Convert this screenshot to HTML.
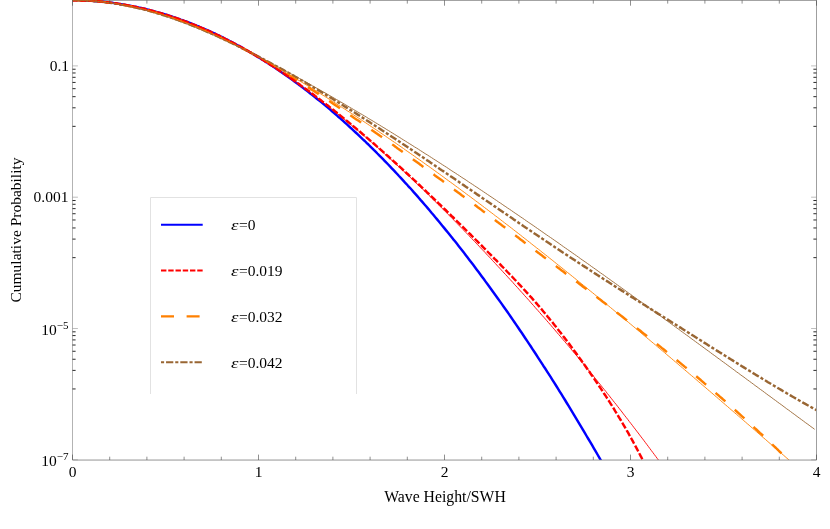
<!DOCTYPE html>
<html><head><meta charset="utf-8"><title>Cumulative Probability</title>
<style>
html,body{margin:0;padding:0;background:#fff;}
body{width:830px;height:529px;overflow:hidden;}
svg{display:block;will-change:transform;}
text{font-family:"Liberation Serif",serif;font-size:15.5px;fill:#000;}
.it{font-style:italic;}
.sup{font-size:11px;}
</style></head><body>
<svg width="830" height="529" viewBox="0 0 830 529">
<rect x="0" y="0" width="830" height="529" fill="#fff"/>
<defs><clipPath id="cp"><rect x="72.5" y="-2" width="744" height="462"/></clipPath></defs>

<path d="M72.5,0.3 H816.5" stroke="#7f7f7f" stroke-width="0.9" fill="none"/>
<g clip-path="url(#cp)" fill="none" stroke-linejoin="round">
<path d="M72.5,0.2 L74.3,0.3 L76.1,0.3 L77.9,0.3 L79.7,0.3 L81.5,0.4 L83.3,0.4 L85.1,0.5 L86.9,0.6 L88.7,0.7 L90.5,0.8 L92.3,0.9 L94.1,1.0 L96.0,1.2 L97.8,1.3 L99.6,1.5 L101.4,1.6 L103.2,1.8 L105.0,2.0 L106.8,2.2 L108.6,2.4 L110.4,2.6 L112.2,2.8 L114.0,3.1 L115.8,3.3 L117.6,3.6 L119.4,3.9 L121.2,4.2 L123.0,4.5 L124.8,4.8 L126.6,5.1 L128.4,5.4 L130.2,5.7 L132.0,6.1 L133.8,6.5 L135.6,6.8 L137.4,7.2 L139.2,7.6 L141.1,8.0 L142.9,8.4 L144.7,8.8 L146.5,9.3 L148.3,9.7 L150.1,10.2 L151.9,10.6 L153.7,11.1 L155.5,11.6 L157.3,12.1 L159.1,12.6 L160.9,13.1 L162.7,13.7 L164.5,14.2 L166.3,14.8 L168.1,15.3 L169.9,15.9 L171.7,16.5 L173.5,17.1 L175.3,17.7 L177.1,18.3 L178.9,18.9 L180.7,19.6 L182.5,20.2 L184.3,20.9 L186.2,21.5 L188.0,22.2 L189.8,22.9 L191.6,23.6 L193.4,24.3 L195.2,25.1 L197.0,25.8 L198.8,26.5 L200.6,27.3 L202.4,28.1 L204.2,28.8 L206.0,29.6 L207.8,30.4 L209.6,31.2 L211.4,32.1 L213.2,32.9 L215.0,33.7 L216.8,34.6 L218.6,35.4 L220.4,36.3 L222.2,37.2 L224.0,38.1 L225.8,39.0 L227.6,39.9 L229.4,40.9 L231.3,41.8 L233.1,42.7 L234.9,43.7 L236.7,44.7 L238.5,45.7 L240.3,46.6 L242.1,47.6 L243.9,48.7 L245.7,49.7 L247.5,50.7 L249.3,51.8 L251.1,52.8 L252.9,53.9 L254.7,55.0 L256.5,56.1 L258.3,57.2 L260.1,58.3 L261.9,59.4 L263.7,60.5 L265.5,61.7 L267.3,62.8 L269.1,64.0 L270.9,65.2 L272.7,66.3 L274.5,67.5 L276.4,68.7 L278.2,70.0 L280.0,71.2 L281.8,72.4 L283.6,73.7 L285.4,74.9 L287.2,76.2 L289.0,77.5 L290.8,78.8 L292.6,80.1 L294.4,81.4 L296.2,82.7 L298.0,84.1 L299.8,85.4 L301.6,86.8 L303.4,88.1 L305.2,89.5 L307.0,90.9 L308.8,92.3 L310.6,93.7 L312.4,95.1 L314.2,96.6 L316.0,98.0 L317.8,99.5 L319.6,100.9 L321.5,102.4 L323.3,103.9 L325.1,105.4 L326.9,106.9 L328.7,108.4 L330.5,109.9 L332.3,111.5 L334.1,113.0 L335.9,114.6 L337.7,116.2 L339.5,117.7 L341.3,119.3 L343.1,120.9 L344.9,122.6 L346.7,124.2 L348.5,125.8 L350.3,127.5 L352.1,129.1 L353.9,130.8 L355.7,132.5 L357.5,134.2 L359.3,135.9 L361.1,137.6 L362.9,139.3 L364.8,141.0 L366.6,142.8 L368.4,144.5 L370.2,146.3 L372.0,148.1 L373.8,149.9 L375.6,151.6 L377.4,153.5 L379.2,155.3 L381.0,157.1 L382.8,158.9 L384.6,160.8 L386.4,162.7 L388.2,164.5 L390.0,166.4 L391.8,168.3 L393.6,170.2 L395.4,172.1 L397.2,174.0 L399.0,176.0 L400.8,177.9 L402.6,179.9 L404.4,181.9 L406.2,183.8 L408.0,185.8 L409.9,187.8 L411.7,189.8 L413.5,191.9 L415.3,193.9 L417.1,195.9 L418.9,198.0 L420.7,200.1 L422.5,202.1 L424.3,204.2 L426.1,206.3 L427.9,208.4 L429.7,210.5 L431.5,212.7 L433.3,214.8 L435.1,217.0 L436.9,219.1 L438.7,221.3 L440.5,223.5 L442.3,225.7 L444.1,227.9 L445.9,230.1 L447.7,232.3 L449.5,234.6 L451.3,236.8 L453.1,239.1 L455.0,241.3 L456.8,243.6 L458.6,245.9 L460.4,248.2 L462.2,250.5 L464.0,252.8 L465.8,255.2 L467.6,257.5 L469.4,259.9 L471.2,262.2 L473.0,264.6 L474.8,267.0 L476.6,269.4 L478.4,271.8 L480.2,274.2 L482.0,276.7 L483.8,279.1 L485.6,281.6 L487.4,284.0 L489.2,286.5 L491.0,289.0 L492.8,291.5 L494.6,294.0 L496.4,296.5 L498.2,299.0 L500.1,301.6 L501.9,304.1 L503.7,306.7 L505.5,309.2 L507.3,311.8 L509.1,314.4 L510.9,317.0 L512.7,319.6 L514.5,322.2 L516.3,324.9 L518.1,327.5 L519.9,330.2 L521.7,332.8 L523.5,335.5 L525.3,338.2 L527.1,340.9 L528.9,343.6 L530.7,346.3 L532.5,349.1 L534.3,351.8 L536.1,354.5 L537.9,357.3 L539.7,360.1 L541.5,362.9 L543.3,365.7 L545.2,368.5 L547.0,371.3 L548.8,374.1 L550.6,376.9 L552.4,379.8 L554.2,382.7 L556.0,385.5 L557.8,388.4 L559.6,391.3 L561.4,394.2 L563.2,397.1 L565.0,400.0 L566.8,403.0 L568.6,405.9 L570.4,408.9 L572.2,411.8 L574.0,414.8 L575.8,417.8 L577.6,420.8 L579.4,423.8 L581.2,426.8 L583.0,429.9 L584.8,432.9 L586.6,436.0 L588.4,439.0 L590.3,442.1 L592.1,445.2 L593.9,448.3 L595.7,451.4 L597.5,454.5 L599.3,457.6 L601.1,460.8 L602.9,463.9 L604.7,467.1 L606.5,470.2 L608.3,473.4 L610.1,476.6 L611.9,479.8" stroke="#0000ff" stroke-width="2.45"/>
<path d="M72.5,0.2 L74.4,0.3 L76.2,0.3 L78.1,0.3 L80.0,0.4 L81.8,0.4 L83.7,0.5 L85.6,0.6 L87.4,0.7 L89.3,0.8 L91.1,0.9 L93.0,1.0 L94.9,1.2 L96.7,1.3 L98.6,1.5 L100.5,1.7 L102.3,1.9 L104.2,2.1 L106.1,2.3 L107.9,2.6 L109.8,2.8 L111.7,3.1 L113.5,3.3 L115.4,3.6 L117.3,3.9 L119.1,4.2 L121.0,4.6 L122.8,4.9 L124.7,5.2 L126.6,5.6 L128.4,6.0 L130.3,6.4 L132.2,6.8 L134.0,7.2 L135.9,7.6 L137.8,8.0 L139.6,8.5 L141.5,8.9 L143.4,9.4 L145.2,9.9 L147.1,10.3 L149.0,10.8 L150.8,11.4 L152.7,11.9 L154.5,12.4 L156.4,13.0 L158.3,13.5 L160.1,14.1 L162.0,14.7 L163.9,15.2 L165.7,15.8 L167.6,16.5 L169.5,17.1 L171.3,17.7 L173.2,18.3 L175.1,19.0 L176.9,19.7 L178.8,20.3 L180.7,21.0 L182.5,21.7 L184.4,22.4 L186.2,23.1 L188.1,23.8 L190.0,24.6 L191.8,25.3 L193.7,26.1 L195.6,26.8 L197.4,27.6 L199.3,28.3 L201.2,29.1 L203.0,29.9 L204.9,30.7 L206.8,31.5 L208.6,32.3 L210.5,33.2 L212.3,34.0 L214.2,34.8 L216.1,35.7 L217.9,36.5 L219.8,37.4 L221.7,38.3 L223.5,39.2 L225.4,40.0 L227.3,40.9 L229.1,41.8 L231.0,42.7 L232.9,43.6 L234.7,44.5 L236.6,45.5 L238.5,46.4 L240.3,47.3 L242.2,48.3 L244.0,49.2 L245.9,50.2 L247.8,51.1 L249.6,52.1 L251.5,53.0 L253.4,53.9 L255.2,54.9 L257.1,55.9 L259.0,56.8 L260.8,57.8 L262.7,58.8 L264.6,59.8 L266.4,60.8 L268.3,61.8 L270.2,62.8 L272.0,63.8 L273.9,64.8 L275.7,65.8 L277.6,66.8 L279.5,67.9 L281.3,68.9 L283.2,69.9 L285.1,71.0 L286.9,72.0 L288.8,73.1 L290.7,74.1 L292.5,75.2 L294.4,76.2 L296.3,77.3 L298.1,78.4 L300.0,79.5 L301.9,80.5 L303.7,81.6 L305.6,82.7 L307.4,83.8 L309.3,84.9 L311.2,86.0 L313.0,87.1 L314.9,88.2 L316.8,89.3 L318.6,90.4 L320.5,91.5 L322.4,92.7 L324.2,93.8 L326.1,94.9 L328.0,96.1 L329.8,97.2 L331.7,98.3 L333.6,99.5 L335.4,100.6 L337.3,101.8 L339.1,102.9 L341.0,104.1 L342.9,105.2 L344.7,106.4 L346.6,107.6 L348.5,108.7 L350.3,109.9 L352.2,111.1 L354.1,112.3 L355.9,113.4 L357.8,114.6 L359.7,115.8 L361.5,117.0 L363.4,118.2 L365.3,119.4 L367.1,120.6 L369.0,121.8 L370.8,123.0 L372.7,124.2 L374.6,125.4 L376.4,126.6 L378.3,127.8 L380.2,129.0 L382.0,130.3 L383.9,131.5 L385.8,132.7 L387.6,133.9 L389.5,135.2 L391.4,136.4 L393.2,137.6 L395.1,138.8 L397.0,140.1 L398.8,141.3 L400.7,142.6 L402.5,143.8 L404.4,145.0 L406.3,146.3 L408.1,147.5 L410.0,148.8 L411.9,150.0 L413.7,151.3 L415.6,152.5 L417.5,153.8 L419.3,155.0 L421.2,156.3 L423.1,157.5 L424.9,158.8 L426.8,160.1 L428.7,161.3 L430.5,162.6 L432.4,163.8 L434.2,165.1 L436.1,166.4 L438.0,167.6 L439.8,168.9 L441.7,170.2 L443.6,171.4 L445.4,172.7 L447.3,174.0 L449.2,175.2 L451.0,176.5 L452.9,177.8 L454.8,179.1 L456.6,180.3 L458.5,181.6 L460.3,182.9 L462.2,184.2 L464.1,185.4 L465.9,186.7 L467.8,188.0 L469.7,189.3 L471.5,190.5 L473.4,191.8 L475.3,193.1 L477.1,194.4 L479.0,195.6 L480.9,196.9 L482.7,198.2 L484.6,199.5 L486.5,200.8 L488.3,202.0 L490.2,203.3 L492.0,204.6 L493.9,205.9 L495.8,207.1 L497.6,208.4 L499.5,209.7 L501.4,211.0 L503.2,212.2 L505.1,213.5 L507.0,214.8 L508.8,216.1 L510.7,217.3 L512.6,218.6 L514.4,219.9 L516.3,221.1 L518.2,222.4 L520.0,223.7 L521.9,224.9 L523.7,226.2 L525.6,227.5 L527.5,228.7 L529.3,230.0 L531.2,231.2 L533.1,232.5 L534.9,233.8 L536.8,235.0 L538.7,236.3 L540.5,237.5 L542.4,238.8 L544.3,240.0 L546.1,241.3 L548.0,242.5 L549.9,243.8 L551.7,245.0 L553.6,246.3 L555.4,247.5 L557.3,248.7 L559.2,250.0 L561.0,251.2 L562.9,252.5 L564.8,253.7 L566.6,254.9 L568.5,256.1 L570.4,257.4 L572.2,258.6 L574.1,259.8 L576.0,261.0 L577.8,262.3 L579.7,263.5 L581.6,264.7 L583.4,265.9 L585.3,267.1 L587.1,268.3 L589.0,269.6 L590.9,270.8 L592.7,272.0 L594.6,273.2 L596.5,274.4 L598.3,275.6 L600.2,276.8 L602.1,278.0 L603.9,279.2 L605.8,280.4 L607.7,281.6 L609.5,282.8 L611.4,284.0 L613.3,285.2 L615.1,286.4 L617.0,287.6 L618.8,288.8 L620.7,289.9 L622.6,291.1 L624.4,292.3 L626.3,293.5 L628.2,294.7 L630.0,295.9 L631.9,297.1 L633.8,298.2 L635.6,299.4 L637.5,300.6 L639.4,301.8 L641.2,303.0 L643.1,304.2 L645.0,305.3 L646.8,306.5 L648.7,307.7 L650.5,308.9 L652.4,310.0 L654.3,311.2 L656.1,312.4 L658.0,313.6 L659.9,314.7 L661.7,315.9 L663.6,317.1 L665.5,318.3 L667.3,319.4 L669.2,320.6 L671.1,321.8 L672.9,323.0 L674.8,324.1 L676.7,325.3 L678.5,326.5 L680.4,327.6 L682.2,328.8 L684.1,330.0 L686.0,331.2 L687.8,332.3 L689.7,333.5 L691.6,334.7 L693.4,335.8 L695.3,337.0 L697.2,338.2 L699.0,339.4 L700.9,340.5 L702.8,341.7 L704.6,342.9 L706.5,344.0 L708.3,345.2 L710.2,346.4 L712.1,347.6 L713.9,348.7 L715.8,349.9 L717.7,351.1 L719.5,352.2 L721.4,353.4 L723.3,354.6 L725.1,355.7 L727.0,356.9 L728.9,358.1 L730.7,359.2 L732.6,360.4 L734.5,361.6 L736.3,362.7 L738.2,363.9 L740.0,365.0 L741.9,366.2 L743.8,367.4 L745.6,368.5 L747.5,369.7 L749.4,370.8 L751.2,371.9 L753.1,373.1 L755.0,374.2 L756.8,375.4 L758.7,376.5 L760.6,377.6 L762.4,378.8 L764.3,379.9 L766.2,381.0 L768.0,382.2 L769.9,383.3 L771.7,384.4 L773.6,385.5 L775.5,386.6 L777.3,387.7 L779.2,388.8 L781.1,389.9 L782.9,391.0 L784.8,392.1 L786.7,393.2 L788.5,394.3 L790.4,395.4 L792.3,396.5 L794.1,397.5 L796.0,398.6 L797.9,399.7 L799.7,400.7 L801.6,401.8 L803.4,402.9 L805.3,403.9 L807.2,405.0 L809.0,406.0 L810.9,407.0 L812.8,408.1 L814.6,409.1 L816.5,410.1" stroke="#996633" stroke-width="2.45" stroke-dasharray="3.1 2.045 7.25 2.045" stroke-dashoffset="1.54"/>
<path d="M72.5,0.2 L74.3,0.3 L76.1,0.3 L77.9,0.3 L79.6,0.3 L81.4,0.4 L83.2,0.5 L85.0,0.5 L86.8,0.6 L88.6,0.7 L90.4,0.8 L92.1,0.9 L93.9,1.1 L95.7,1.2 L97.5,1.3 L99.3,1.5 L101.1,1.7 L102.9,1.9 L104.6,2.1 L106.4,2.3 L108.2,2.5 L110.0,2.7 L111.8,3.0 L113.6,3.2 L115.3,3.5 L117.1,3.7 L118.9,4.0 L120.7,4.3 L122.5,4.6 L124.3,4.9 L126.1,5.3 L127.8,5.6 L129.6,6.0 L131.4,6.3 L133.2,6.7 L135.0,7.1 L136.8,7.5 L138.6,7.9 L140.3,8.3 L142.1,8.7 L143.9,9.1 L145.7,9.6 L147.5,10.0 L149.3,10.5 L151.1,11.0 L152.8,11.5 L154.6,12.0 L156.4,12.5 L158.2,13.0 L160.0,13.5 L161.8,14.1 L163.6,14.6 L165.3,15.2 L167.1,15.7 L168.9,16.3 L170.7,16.9 L172.5,17.5 L174.3,18.1 L176.1,18.7 L177.8,19.4 L179.6,20.0 L181.4,20.6 L183.2,21.3 L185.0,22.0 L186.8,22.6 L188.6,23.3 L190.3,24.0 L192.1,24.7 L193.9,25.4 L195.7,26.2 L197.5,26.9 L199.3,27.6 L201.0,28.4 L202.8,29.1 L204.6,29.9 L206.4,30.7 L208.2,31.5 L210.0,32.3 L211.8,33.1 L213.5,33.9 L215.3,34.7 L217.1,35.5 L218.9,36.4 L220.7,37.2 L222.5,38.1 L224.3,38.9 L226.0,39.8 L227.8,40.7 L229.6,41.6 L231.4,42.5 L233.2,43.4 L235.0,44.3 L236.8,45.2 L238.5,46.1 L240.3,47.0 L242.1,48.0 L243.9,48.9 L245.7,49.9 L247.5,50.8 L249.3,51.8 L251.0,52.8 L252.8,53.7 L254.6,54.7 L256.4,55.8 L258.2,56.8 L260.0,57.8 L261.8,58.9 L263.5,59.9 L265.3,61.0 L267.1,62.0 L268.9,63.1 L270.7,64.2 L272.5,65.2 L274.3,66.3 L276.0,67.4 L277.8,68.5 L279.6,69.6 L281.4,70.6 L283.2,71.7 L285.0,72.8 L286.7,73.9 L288.5,75.0 L290.3,76.1 L292.1,77.2 L293.9,78.4 L295.7,79.5 L297.5,80.6 L299.2,81.7 L301.0,82.8 L302.8,84.0 L304.6,85.1 L306.4,86.2 L308.2,87.4 L310.0,88.5 L311.7,89.7 L313.5,90.8 L315.3,92.0 L317.1,93.1 L318.9,94.3 L320.7,95.5 L322.5,96.6 L324.2,97.8 L326.0,99.0 L327.8,100.2 L329.6,101.3 L331.4,102.5 L333.2,103.7 L335.0,104.9 L336.7,106.1 L338.5,107.3 L340.3,108.5 L342.1,109.7 L343.9,110.9 L345.7,112.1 L347.5,113.3 L349.2,114.5 L351.0,115.7 L352.8,116.9 L354.6,118.2 L356.4,119.4 L358.2,120.6 L360.0,121.8 L361.7,123.1 L363.5,124.3 L365.3,125.5 L367.1,126.8 L368.9,128.0 L370.7,129.2 L372.4,130.5 L374.2,131.7 L376.0,133.0 L377.8,134.2 L379.6,135.5 L381.4,136.7 L383.2,138.0 L384.9,139.3 L386.7,140.5 L388.5,141.8 L390.3,143.1 L392.1,144.3 L393.9,145.6 L395.7,146.9 L397.4,148.2 L399.2,149.4 L401.0,150.7 L402.8,152.0 L404.6,153.3 L406.4,154.6 L408.2,155.8 L409.9,157.1 L411.7,158.4 L413.5,159.7 L415.3,161.0 L417.1,162.3 L418.9,163.6 L420.7,164.9 L422.4,166.2 L424.2,167.5 L426.0,168.8 L427.8,170.1 L429.6,171.4 L431.4,172.7 L433.2,174.0 L434.9,175.4 L436.7,176.7 L438.5,178.0 L440.3,179.3 L442.1,180.6 L443.9,181.9 L445.7,183.2 L447.4,184.6 L449.2,185.9 L451.0,187.2 L452.8,188.5 L454.6,189.9 L456.4,191.2 L458.1,192.5 L459.9,193.8 L461.7,195.2 L463.5,196.5 L465.3,197.8 L467.1,199.2 L468.9,200.5 L470.6,201.8 L472.4,203.2 L474.2,204.5 L476.0,205.8 L477.8,207.2 L479.6,208.5 L481.4,209.9 L483.1,211.2 L484.9,212.5 L486.7,213.9 L488.5,215.2 L490.3,216.6 L492.1,217.9 L493.9,219.3 L495.6,220.6 L497.4,221.9 L499.2,223.3 L501.0,224.6 L502.8,226.0 L504.6,227.3 L506.4,228.7 L508.1,230.0 L509.9,231.4 L511.7,232.7 L513.5,234.1 L515.3,235.4 L517.1,236.8 L518.9,238.1 L520.6,239.5 L522.4,240.8 L524.2,242.2 L526.0,243.5 L527.8,244.9 L529.6,246.2 L531.4,247.5 L533.1,248.9 L534.9,250.2 L536.7,251.6 L538.5,252.9 L540.3,254.3 L542.1,255.6 L543.8,257.0 L545.6,258.3 L547.4,259.7 L549.2,261.0 L551.0,262.4 L552.8,263.7 L554.6,265.1 L556.3,266.4 L558.1,267.8 L559.9,269.1 L561.7,270.5 L563.5,271.8 L565.3,273.2 L567.1,274.5 L568.8,275.9 L570.6,277.2 L572.4,278.6 L574.2,279.9 L576.0,281.3 L577.8,282.6 L579.6,284.0 L581.3,285.3 L583.1,286.7 L584.9,288.0 L586.7,289.4 L588.5,290.8 L590.3,292.1 L592.1,293.5 L593.8,294.8 L595.6,296.2 L597.4,297.6 L599.2,298.9 L601.0,300.3 L602.8,301.7 L604.6,303.0 L606.3,304.4 L608.1,305.8 L609.9,307.2 L611.7,308.5 L613.5,309.9 L615.3,311.3 L617.1,312.7 L618.8,314.0 L620.6,315.4 L622.4,316.8 L624.2,318.2 L626.0,319.6 L627.8,321.0 L629.5,322.4 L631.3,323.8 L633.1,325.2 L634.9,326.6 L636.7,328.0 L638.5,329.4 L640.3,330.8 L642.0,332.2 L643.8,333.6 L645.6,335.0 L647.4,336.4 L649.2,337.9 L651.0,339.3 L652.8,340.7 L654.5,342.1 L656.3,343.6 L658.1,345.0 L659.9,346.4 L661.7,347.9 L663.5,349.3 L665.3,350.8 L667.0,352.2 L668.8,353.7 L670.6,355.1 L672.4,356.6 L674.2,358.0 L676.0,359.5 L677.8,361.0 L679.5,362.4 L681.3,363.9 L683.1,365.4 L684.9,366.9 L686.7,368.3 L688.5,369.8 L690.3,371.3 L692.0,372.8 L693.8,374.3 L695.6,375.8 L697.4,377.3 L699.2,378.8 L701.0,380.3 L702.8,381.9 L704.5,383.4 L706.3,384.9 L708.1,386.4 L709.9,388.0 L711.7,389.5 L713.5,391.0 L715.2,392.6 L717.0,394.1 L718.8,395.7 L720.6,397.3 L722.4,398.8 L724.2,400.4 L726.0,402.0 L727.7,403.5 L729.5,405.1 L731.3,406.7 L733.1,408.3 L734.9,409.9 L736.7,411.5 L738.5,413.1 L740.2,414.7 L742.0,416.3 L743.8,417.9 L745.6,419.6 L747.4,421.2 L749.2,422.8 L751.0,424.5 L752.7,426.1 L754.5,427.8 L756.3,429.4 L758.1,431.1 L759.9,432.8 L761.7,434.4 L763.5,436.1 L765.2,437.8 L767.0,439.5 L768.8,441.2 L770.6,442.9 L772.4,444.6 L774.2,446.3 L776.0,448.0 L777.7,449.7 L779.5,451.5 L781.3,453.2 L783.1,454.9 L784.9,456.7" stroke="#ff8000" stroke-width="2.45" stroke-dasharray="13 12.50" stroke-dashoffset="0.42"/>
<path d="M72.5,0.2 L73.9,0.3 L75.4,0.3 L76.8,0.3 L78.2,0.3 L79.7,0.3 L81.1,0.4 L82.6,0.4 L84.0,0.5 L85.4,0.5 L86.9,0.6 L88.3,0.7 L89.7,0.7 L91.2,0.8 L92.6,0.9 L94.0,1.0 L95.5,1.1 L96.9,1.2 L98.3,1.4 L99.8,1.5 L101.2,1.6 L102.7,1.8 L104.1,1.9 L105.5,2.1 L107.0,2.2 L108.4,2.4 L109.8,2.6 L111.3,2.8 L112.7,2.9 L114.1,3.1 L115.6,3.3 L117.0,3.5 L118.4,3.8 L119.9,4.0 L121.3,4.2 L122.8,4.5 L124.2,4.7 L125.6,4.9 L127.1,5.2 L128.5,5.5 L129.9,5.7 L131.4,6.0 L132.8,6.3 L134.2,6.6 L135.7,6.9 L137.1,7.2 L138.5,7.5 L140.0,7.8 L141.4,8.2 L142.9,8.5 L144.3,8.8 L145.7,9.2 L147.2,9.5 L148.6,9.9 L150.0,10.2 L151.5,10.6 L152.9,11.0 L154.3,11.4 L155.8,11.8 L157.2,12.2 L158.6,12.6 L160.1,13.0 L161.5,13.4 L163.0,13.8 L164.4,14.3 L165.8,14.7 L167.3,15.2 L168.7,15.6 L170.1,16.1 L171.6,16.6 L173.0,17.0 L174.4,17.5 L175.9,18.0 L177.3,18.5 L178.7,19.0 L180.2,19.5 L181.6,20.0 L183.1,20.5 L184.5,21.1 L185.9,21.6 L187.4,22.1 L188.8,22.7 L190.2,23.2 L191.7,23.8 L193.1,24.4 L194.5,24.9 L196.0,25.5 L197.4,26.1 L198.8,26.7 L200.3,27.3 L201.7,27.9 L203.2,28.5 L204.6,29.2 L206.0,29.8 L207.5,30.4 L208.9,31.1 L210.3,31.7 L211.8,32.4 L213.2,33.0 L214.6,33.7 L216.1,34.4 L217.5,35.1 L219.0,35.7 L220.4,36.4 L221.8,37.1 L223.3,37.8 L224.7,38.6 L226.1,39.3 L227.6,40.0 L229.0,40.7 L230.4,41.5 L231.9,42.2 L233.3,43.0 L234.7,43.7 L236.2,44.5 L237.6,45.3 L239.1,46.1 L240.5,46.8 L241.9,47.6 L243.4,48.4 L244.8,49.2 L246.2,50.0 L247.7,50.9 L249.1,51.7 L250.5,52.5 L252.0,53.4 L253.4,54.2 L254.8,55.0 L256.3,55.9 L257.7,56.8 L259.2,57.6 L260.6,58.5 L262.0,59.4 L263.5,60.3 L264.9,61.2 L266.3,62.1 L267.8,63.0 L269.2,63.9 L270.6,64.8 L272.1,65.8 L273.5,66.7 L274.9,67.6 L276.4,68.6 L277.8,69.5 L279.3,70.5 L280.7,71.4 L282.1,72.4 L283.6,73.3 L285.0,74.3 L286.4,75.3 L287.9,76.3 L289.3,77.3 L290.7,78.3 L292.2,79.3 L293.6,80.3 L295.0,81.3 L296.5,82.3 L297.9,83.3 L299.4,84.3 L300.8,85.4 L302.2,86.4 L303.7,87.4 L305.1,88.5 L306.5,89.5 L308.0,90.6 L309.4,91.6 L310.8,92.7 L312.3,93.8 L313.7,94.8 L315.1,95.9 L316.6,97.0 L318.0,98.1 L319.5,99.2 L320.9,100.3 L322.3,101.4 L323.8,102.5 L325.2,103.6 L326.6,104.7 L328.1,105.8 L329.5,106.9 L330.9,108.1 L332.4,109.2 L333.8,110.3 L335.2,111.5 L336.7,112.6 L338.1,113.8 L339.6,114.9 L341.0,116.1 L342.4,117.3 L343.9,118.4 L345.3,119.6 L346.7,120.8 L348.2,122.0 L349.6,123.1 L351.0,124.3 L352.5,125.5 L353.9,126.7 L355.4,127.9 L356.8,129.1 L358.2,130.3 L359.7,131.5 L361.1,132.7 L362.5,134.0 L364.0,135.2 L365.4,136.4 L366.8,137.6 L368.3,138.9 L369.7,140.1 L371.1,141.4 L372.6,142.6 L374.0,143.8 L375.5,145.1 L376.9,146.4 L378.3,147.6 L379.8,148.9 L381.2,150.1 L382.6,151.4 L384.1,152.7 L385.5,154.0 L386.9,155.2 L388.4,156.5 L389.8,157.8 L391.2,159.1 L392.7,160.4 L394.1,161.7 L395.6,163.0 L397.0,164.3 L398.4,165.6 L399.9,166.9 L401.3,168.2 L402.7,169.5 L404.2,170.8 L405.6,172.2 L407.0,173.5 L408.5,174.8 L409.9,176.1 L411.3,177.5 L412.8,178.8 L414.2,180.1 L415.7,181.5 L417.1,182.8 L418.5,184.2 L420.0,185.5 L421.4,186.9 L422.8,188.2 L424.3,189.6 L425.7,190.9 L427.1,192.3 L428.6,193.7 L430.0,195.0 L431.4,196.4 L432.9,197.8 L434.3,199.2 L435.8,200.5 L437.2,201.9 L438.6,203.3 L440.1,204.7 L441.5,206.1 L442.9,207.5 L444.4,208.9 L445.8,210.2 L447.2,211.6 L448.7,213.0 L450.1,214.4 L451.5,215.8 L453.0,217.2 L454.4,218.7 L455.9,220.1 L457.3,221.5 L458.7,222.9 L460.2,224.3 L461.6,225.7 L463.0,227.1 L464.5,228.6 L465.9,230.0 L467.3,231.4 L468.8,232.8 L470.2,234.2 L471.6,235.7 L473.1,237.1 L474.5,238.5 L476.0,240.0 L477.4,241.4 L478.8,242.8 L480.3,244.3 L481.7,245.7 L483.1,247.2 L484.6,248.6 L486.0,250.1 L487.4,251.5 L488.9,253.0 L490.3,254.4 L491.8,255.9 L493.2,257.3 L494.6,258.8 L496.1,260.2 L497.5,261.7 L498.9,263.1 L500.4,264.6 L501.8,266.1 L503.2,267.5 L504.7,269.0 L506.1,270.5 L507.5,272.0 L509.0,273.5 L510.4,275.0 L511.9,276.5 L513.3,278.0 L514.7,279.5 L516.2,281.0 L517.6,282.5 L519.0,284.1 L520.5,285.6 L521.9,287.2 L523.3,288.7 L524.8,290.3 L526.2,291.9 L527.6,293.4 L529.1,295.0 L530.5,296.6 L532.0,298.2 L533.4,299.9 L534.8,301.5 L536.3,303.1 L537.7,304.8 L539.1,306.4 L540.6,308.1 L542.0,309.8 L543.4,311.5 L544.9,313.2 L546.3,314.9 L547.7,316.7 L549.2,318.4 L550.6,320.2 L552.1,321.9 L553.5,323.7 L554.9,325.5 L556.4,327.3 L557.8,329.2 L559.2,331.0 L560.7,332.8 L562.1,334.7 L563.5,336.6 L565.0,338.4 L566.4,340.3 L567.8,342.2 L569.3,344.1 L570.7,346.0 L572.2,348.0 L573.6,349.9 L575.0,351.8 L576.5,353.8 L577.9,355.8 L579.3,357.7 L580.8,359.7 L582.2,361.7 L583.6,363.7 L585.1,365.7 L586.5,367.7 L587.9,369.8 L589.4,371.8 L590.8,373.9 L592.3,375.9 L593.7,378.0 L595.1,380.1 L596.6,382.2 L598.0,384.3 L599.4,386.5 L600.9,388.6 L602.3,390.8 L603.7,393.0 L605.2,395.2 L606.6,397.4 L608.0,399.6 L609.5,401.9 L610.9,404.1 L612.4,406.4 L613.8,408.7 L615.2,411.1 L616.7,413.4 L618.1,415.8 L619.5,418.1 L621.0,420.5 L622.4,423.0 L623.8,425.4 L625.3,427.9 L626.7,430.4 L628.2,432.9 L629.6,435.5 L631.0,438.0 L632.5,440.6 L633.9,443.3 L635.3,445.9 L636.8,448.6 L638.2,451.3 L639.6,454.0 L641.1,456.8 L642.5,459.6 L643.9,462.4 L645.4,465.3" stroke="#ff0000" stroke-width="2.45" stroke-dasharray="6.66 2.1" stroke-dashoffset="1.66"/>
<path d="M72.5,0.2 L74.0,0.3 L75.4,0.3 L76.9,0.3 L78.4,0.3 L79.9,0.3 L81.3,0.4 L82.8,0.4 L84.3,0.5 L85.8,0.5 L87.2,0.6 L88.7,0.7 L90.2,0.8 L91.7,0.9 L93.1,1.0 L94.6,1.1 L96.1,1.2 L97.5,1.3 L99.0,1.4 L100.5,1.6 L102.0,1.7 L103.4,1.9 L104.9,2.0 L106.4,2.2 L107.9,2.4 L109.3,2.5 L110.8,2.7 L112.3,2.9 L113.7,3.1 L115.2,3.3 L116.7,3.5 L118.2,3.8 L119.6,4.0 L121.1,4.2 L122.6,4.5 L124.1,4.7 L125.5,5.0 L127.0,5.2 L128.5,5.5 L130.0,5.8 L131.4,6.1 L132.9,6.4 L134.4,6.7 L135.8,7.0 L137.3,7.3 L138.8,7.6 L140.3,8.0 L141.7,8.3 L143.2,8.6 L144.7,9.0 L146.2,9.4 L147.6,9.7 L149.1,10.1 L150.6,10.5 L152.0,10.9 L153.5,11.3 L155.0,11.7 L156.5,12.1 L157.9,12.5 L159.4,12.9 L160.9,13.3 L162.4,13.8 L163.8,14.2 L165.3,14.7 L166.8,15.1 L168.3,15.6 L169.7,16.1 L171.2,16.6 L172.7,17.0 L174.1,17.5 L175.6,18.0 L177.1,18.5 L178.6,19.1 L180.0,19.6 L181.5,20.1 L183.0,20.6 L184.5,21.2 L185.9,21.7 L187.4,22.3 L188.9,22.9 L190.3,23.4 L191.8,24.0 L193.3,24.6 L194.8,25.2 L196.2,25.8 L197.7,26.4 L199.2,27.0 L200.7,27.6 L202.1,28.2 L203.6,28.9 L205.1,29.5 L206.6,30.2 L208.0,30.8 L209.5,31.5 L211.0,32.1 L212.4,32.8 L213.9,33.5 L215.4,34.2 L216.9,34.9 L218.3,35.6 L219.8,36.3 L221.3,37.0 L222.8,37.7 L224.2,38.5 L225.7,39.2 L227.2,39.9 L228.6,40.7 L230.1,41.4 L231.6,42.2 L233.1,43.0 L234.5,43.7 L236.0,44.5 L237.5,45.3 L239.0,46.1 L240.4,46.9 L241.9,47.7 L243.4,48.5 L244.9,49.3 L246.3,50.2 L247.8,51.0 L249.3,51.8 L250.7,52.7 L252.2,53.5 L253.7,54.4 L255.2,55.2 L256.6,56.1 L258.1,57.0 L259.6,57.9 L261.1,58.9 L262.5,59.8 L264.0,60.7 L265.5,61.7 L266.9,62.6 L268.4,63.5 L269.9,64.5 L271.4,65.5 L272.8,66.4 L274.3,67.4 L275.8,68.4 L277.3,69.3 L278.7,70.3 L280.2,71.3 L281.7,72.3 L283.2,73.3 L284.6,74.3 L286.1,75.3 L287.6,76.3 L289.0,77.4 L290.5,78.4 L292.0,79.4 L293.5,80.5 L294.9,81.5 L296.4,82.5 L297.9,83.6 L299.4,84.7 L300.8,85.7 L302.3,86.8 L303.8,87.9 L305.2,88.9 L306.7,90.0 L308.2,91.1 L309.7,92.2 L311.1,93.3 L312.6,94.4 L314.1,95.5 L315.6,96.6 L317.0,97.7 L318.5,98.8 L320.0,100.0 L321.5,101.1 L322.9,102.2 L324.4,103.4 L325.9,104.5 L327.3,105.7 L328.8,106.8 L330.3,108.0 L331.8,109.1 L333.2,110.3 L334.7,111.5 L336.2,112.6 L337.7,113.8 L339.1,115.0 L340.6,116.2 L342.1,117.4 L343.5,118.6 L345.0,119.8 L346.5,121.0 L348.0,122.2 L349.4,123.4 L350.9,124.7 L352.4,125.9 L353.9,127.1 L355.3,128.4 L356.8,129.6 L358.3,130.8 L359.8,132.1 L361.2,133.3 L362.7,134.6 L364.2,135.9 L365.6,137.1 L367.1,138.4 L368.6,139.7 L370.1,140.9 L371.5,142.2 L373.0,143.5 L374.5,144.8 L376.0,146.1 L377.4,147.4 L378.9,148.7 L380.4,150.0 L381.8,151.3 L383.3,152.6 L384.8,154.0 L386.3,155.3 L387.7,156.6 L389.2,157.9 L390.7,159.3 L392.2,160.6 L393.6,162.0 L395.1,163.3 L396.6,164.7 L398.1,166.0 L399.5,167.4 L401.0,168.7 L402.5,170.1 L403.9,171.5 L405.4,172.9 L406.9,174.2 L408.4,175.6 L409.8,177.0 L411.3,178.4 L412.8,179.8 L414.3,181.2 L415.7,182.6 L417.2,184.0 L418.7,185.4 L420.1,186.8 L421.6,188.2 L423.1,189.7 L424.6,191.1 L426.0,192.5 L427.5,193.9 L429.0,195.4 L430.5,196.8 L431.9,198.3 L433.4,199.7 L434.9,201.2 L436.4,202.6 L437.8,204.1 L439.3,205.5 L440.8,207.0 L442.2,208.5 L443.7,209.9 L445.2,211.4 L446.7,212.9 L448.1,214.4 L449.6,215.8 L451.1,217.3 L452.6,218.8 L454.0,220.3 L455.5,221.8 L457.0,223.3 L458.4,224.8 L459.9,226.3 L461.4,227.8 L462.9,229.3 L464.3,230.9 L465.8,232.4 L467.3,233.9 L468.8,235.4 L470.2,237.0 L471.7,238.5 L473.2,240.0 L474.7,241.6 L476.1,243.1 L477.6,244.7 L479.1,246.2 L480.5,247.8 L482.0,249.3 L483.5,250.9 L485.0,252.4 L486.4,254.0 L487.9,255.6 L489.4,257.1 L490.9,258.7 L492.3,260.3 L493.8,261.9 L495.3,263.4 L496.7,265.0 L498.2,266.6 L499.7,268.2 L501.2,269.8 L502.6,271.4 L504.1,273.0 L505.6,274.6 L507.1,276.2 L508.5,277.8 L510.0,279.4 L511.5,281.0 L513.0,282.6 L514.4,284.3 L515.9,285.9 L517.4,287.5 L518.8,289.1 L520.3,290.8 L521.8,292.4 L523.3,294.0 L524.7,295.7 L526.2,297.3 L527.7,299.0 L529.2,300.6 L530.6,302.3 L532.1,304.0 L533.6,305.6 L535.0,307.3 L536.5,309.0 L538.0,310.6 L539.5,312.3 L540.9,314.0 L542.4,315.7 L543.9,317.3 L545.4,319.0 L546.8,320.7 L548.3,322.4 L549.8,324.1 L551.3,325.8 L552.7,327.5 L554.2,329.2 L555.7,331.0 L557.1,332.7 L558.6,334.4 L560.1,336.1 L561.6,337.9 L563.0,339.6 L564.5,341.3 L566.0,343.1 L567.5,344.8 L568.9,346.5 L570.4,348.3 L571.9,350.1 L573.3,351.8 L574.8,353.6 L576.3,355.3 L577.8,357.1 L579.2,358.9 L580.7,360.7 L582.2,362.4 L583.7,364.2 L585.1,366.0 L586.6,367.8 L588.1,369.6 L589.6,371.4 L591.0,373.2 L592.5,375.0 L594.0,376.8 L595.4,378.6 L596.9,380.4 L598.4,382.3 L599.9,384.1 L601.3,385.9 L602.8,387.8 L604.3,389.6 L605.8,391.4 L607.2,393.3 L608.7,395.1 L610.2,397.0 L611.6,398.8 L613.1,400.7 L614.6,402.6 L616.1,404.4 L617.5,406.3 L619.0,408.2 L620.5,410.1 L622.0,412.0 L623.4,413.9 L624.9,415.8 L626.4,417.7 L627.9,419.6 L629.3,421.5 L630.8,423.4 L632.3,425.3 L633.7,427.2 L635.2,429.1 L636.7,431.1 L638.2,433.0 L639.6,434.9 L641.1,436.9 L642.6,438.8 L644.1,440.8 L645.5,442.7 L647.0,444.7 L648.5,446.7 L649.9,448.6 L651.4,450.6 L652.9,452.6 L654.4,454.6 L655.8,456.5 L657.3,458.5 L658.8,460.5 L660.3,462.5" stroke="#ff0000" stroke-width="0.9"/>
<path d="M72.5,0.2 L74.3,0.3 L76.1,0.3 L77.9,0.3 L79.7,0.3 L81.5,0.4 L83.3,0.5 L85.1,0.5 L86.9,0.6 L88.7,0.7 L90.5,0.8 L92.3,1.0 L94.1,1.1 L95.9,1.2 L97.7,1.4 L99.5,1.6 L101.3,1.7 L103.1,1.9 L104.9,2.1 L106.7,2.4 L108.5,2.6 L110.3,2.8 L112.1,3.1 L113.9,3.3 L115.7,3.6 L117.5,3.9 L119.3,4.2 L121.1,4.5 L122.9,4.8 L124.7,5.1 L126.5,5.5 L128.3,5.8 L130.1,6.2 L131.9,6.6 L133.7,7.0 L135.5,7.4 L137.3,7.8 L139.1,8.2 L140.9,8.6 L142.7,9.0 L144.5,9.5 L146.3,10.0 L148.1,10.4 L149.9,10.9 L151.7,11.4 L153.5,11.9 L155.3,12.4 L157.1,12.9 L158.9,13.5 L160.7,14.0 L162.5,14.6 L164.3,15.1 L166.1,15.7 L167.9,16.3 L169.7,16.9 L171.5,17.5 L173.3,18.1 L175.1,18.7 L176.9,19.4 L178.7,20.0 L180.5,20.7 L182.3,21.3 L184.1,22.0 L185.9,22.7 L187.7,23.4 L189.5,24.1 L191.3,24.8 L193.1,25.5 L194.9,26.2 L196.7,27.0 L198.5,27.7 L200.3,28.5 L202.1,29.2 L203.9,30.0 L205.7,30.8 L207.5,31.5 L209.3,32.3 L211.1,33.1 L212.9,33.9 L214.7,34.8 L216.5,35.6 L218.3,36.4 L220.1,37.3 L221.9,38.1 L223.6,39.0 L225.4,39.8 L227.2,40.7 L229.0,41.6 L230.8,42.5 L232.6,43.3 L234.4,44.2 L236.2,45.1 L238.0,46.0 L239.8,47.0 L241.6,47.9 L243.4,48.8 L245.2,49.7 L247.0,50.7 L248.8,51.6 L250.6,52.6 L252.4,53.5 L254.2,54.5 L256.0,55.5 L257.8,56.6 L259.6,57.6 L261.4,58.6 L263.2,59.6 L265.0,60.6 L266.8,61.6 L268.6,62.7 L270.4,63.7 L272.2,64.7 L274.0,65.8 L275.8,66.8 L277.6,67.8 L279.4,68.9 L281.2,69.9 L283.0,71.0 L284.8,72.1 L286.6,73.1 L288.4,74.2 L290.2,75.2 L292.0,76.3 L293.8,77.4 L295.6,78.5 L297.4,79.5 L299.2,80.6 L301.0,81.7 L302.8,82.8 L304.6,83.9 L306.4,85.0 L308.2,86.1 L310.0,87.2 L311.8,88.3 L313.6,89.4 L315.4,90.5 L317.2,91.6 L319.0,92.8 L320.8,93.9 L322.6,95.0 L324.4,96.1 L326.2,97.3 L328.0,98.4 L329.8,99.5 L331.6,100.7 L333.4,101.8 L335.2,103.0 L337.0,104.1 L338.8,105.3 L340.6,106.4 L342.4,107.6 L344.2,108.7 L346.0,109.9 L347.8,111.1 L349.6,112.2 L351.4,113.4 L353.2,114.6 L355.0,115.8 L356.8,116.9 L358.6,118.1 L360.4,119.3 L362.2,120.5 L364.0,121.7 L365.8,122.9 L367.6,124.1 L369.4,125.3 L371.2,126.5 L373.0,127.7 L374.8,128.9 L376.6,130.1 L378.4,131.3 L380.2,132.6 L382.0,133.8 L383.8,135.0 L385.6,136.2 L387.4,137.5 L389.2,138.7 L391.0,139.9 L392.8,141.2 L394.6,142.4 L396.4,143.6 L398.2,144.9 L400.0,146.1 L401.8,147.4 L403.6,148.6 L405.4,149.9 L407.2,151.2 L409.0,152.4 L410.8,153.7 L412.6,154.9 L414.4,156.2 L416.2,157.5 L418.0,158.8 L419.8,160.0 L421.6,161.3 L423.4,162.6 L425.2,163.9 L427.0,165.2 L428.8,166.4 L430.6,167.7 L432.4,169.0 L434.2,170.3 L436.0,171.6 L437.8,172.9 L439.6,174.2 L441.4,175.5 L443.2,176.8 L445.0,178.2 L446.8,179.5 L448.6,180.8 L450.4,182.1 L452.2,183.4 L454.0,184.7 L455.8,186.1 L457.6,187.4 L459.4,188.7 L461.2,190.1 L463.0,191.4 L464.8,192.7 L466.6,194.1 L468.4,195.4 L470.2,196.7 L472.0,198.1 L473.8,199.4 L475.6,200.8 L477.4,202.1 L479.2,203.5 L481.0,204.8 L482.8,206.2 L484.6,207.6 L486.4,208.9 L488.2,210.3 L490.0,211.7 L491.8,213.0 L493.6,214.4 L495.4,215.8 L497.2,217.1 L499.0,218.5 L500.8,219.9 L502.6,221.3 L504.4,222.7 L506.2,224.1 L508.0,225.4 L509.8,226.8 L511.6,228.2 L513.4,229.6 L515.2,231.0 L517.0,232.4 L518.8,233.8 L520.6,235.2 L522.3,236.6 L524.1,238.0 L525.9,239.4 L527.7,240.8 L529.5,242.2 L531.3,243.7 L533.1,245.1 L534.9,246.5 L536.7,247.9 L538.5,249.3 L540.3,250.7 L542.1,252.2 L543.9,253.6 L545.7,255.0 L547.5,256.4 L549.3,257.9 L551.1,259.3 L552.9,260.7 L554.7,262.2 L556.5,263.6 L558.3,265.1 L560.1,266.5 L561.9,267.9 L563.7,269.4 L565.5,270.8 L567.3,272.3 L569.1,273.7 L570.9,275.2 L572.7,276.6 L574.5,278.1 L576.3,279.5 L578.1,281.0 L579.9,282.5 L581.7,283.9 L583.5,285.4 L585.3,286.8 L587.1,288.3 L588.9,289.8 L590.7,291.3 L592.5,292.7 L594.3,294.2 L596.1,295.7 L597.9,297.1 L599.7,298.6 L601.5,300.1 L603.3,301.6 L605.1,303.1 L606.9,304.5 L608.7,306.0 L610.5,307.5 L612.3,309.0 L614.1,310.5 L615.9,312.0 L617.7,313.5 L619.5,314.9 L621.3,316.4 L623.1,317.9 L624.9,319.4 L626.7,320.9 L628.5,322.4 L630.3,323.9 L632.1,325.4 L633.9,326.9 L635.7,328.4 L637.5,329.9 L639.3,331.4 L641.1,332.9 L642.9,334.5 L644.7,336.0 L646.5,337.5 L648.3,339.0 L650.1,340.5 L651.9,342.0 L653.7,343.5 L655.5,345.0 L657.3,346.6 L659.1,348.1 L660.9,349.6 L662.7,351.1 L664.5,352.6 L666.3,354.2 L668.1,355.7 L669.9,357.2 L671.7,358.7 L673.5,360.3 L675.3,361.8 L677.1,363.3 L678.9,364.9 L680.7,366.4 L682.5,367.9 L684.3,369.5 L686.1,371.0 L687.9,372.5 L689.7,374.1 L691.5,375.6 L693.3,377.1 L695.1,378.7 L696.9,380.2 L698.7,381.8 L700.5,383.3 L702.3,384.9 L704.1,386.4 L705.9,387.9 L707.7,389.5 L709.5,391.0 L711.3,392.6 L713.1,394.1 L714.9,395.7 L716.7,397.2 L718.5,398.8 L720.3,400.3 L722.1,401.9 L723.9,403.4 L725.7,405.0 L727.5,406.5 L729.3,408.1 L731.1,409.7 L732.9,411.2 L734.7,412.8 L736.5,414.3 L738.3,415.9 L740.1,417.4 L741.9,419.0 L743.7,420.6 L745.5,422.1 L747.3,423.7 L749.1,425.2 L750.9,426.8 L752.7,428.4 L754.5,429.9 L756.3,431.5 L758.1,433.1 L759.9,434.6 L761.7,436.2 L763.5,437.8 L765.3,439.3 L767.1,440.9 L768.9,442.5 L770.7,444.0 L772.5,445.6 L774.3,447.2 L776.1,448.7 L777.9,450.3 L779.7,451.9 L781.5,453.5 L783.3,455.0 L785.1,456.6 L786.9,458.2 L788.7,459.7 L790.5,461.3" stroke="#ff8000" stroke-width="0.9"/>
<path d="M72.5,0.2 L74.4,0.3 L76.2,0.3 L78.1,0.3 L79.9,0.4 L81.8,0.4 L83.7,0.5 L85.5,0.6 L87.4,0.7 L89.2,0.8 L91.1,0.9 L93.0,1.1 L94.8,1.2 L96.7,1.4 L98.5,1.6 L100.4,1.8 L102.3,2.0 L104.1,2.2 L106.0,2.4 L107.8,2.7 L109.7,2.9 L111.6,3.2 L113.4,3.5 L115.3,3.8 L117.1,4.1 L119.0,4.4 L120.9,4.7 L122.7,5.1 L124.6,5.4 L126.4,5.8 L128.3,6.2 L130.2,6.6 L132.0,7.0 L133.9,7.4 L135.7,7.9 L137.6,8.3 L139.5,8.8 L141.3,9.2 L143.2,9.7 L145.0,10.2 L146.9,10.7 L148.8,11.2 L150.6,11.7 L152.5,12.3 L154.3,12.8 L156.2,13.4 L158.1,13.9 L159.9,14.5 L161.8,15.1 L163.6,15.7 L165.5,16.3 L167.4,16.9 L169.2,17.6 L171.1,18.2 L172.9,18.9 L174.8,19.5 L176.7,20.2 L178.5,20.9 L180.4,21.6 L182.2,22.3 L184.1,23.0 L186.0,23.7 L187.8,24.4 L189.7,25.1 L191.5,25.9 L193.4,26.6 L195.3,27.4 L197.1,28.1 L199.0,28.9 L200.8,29.7 L202.7,30.5 L204.6,31.3 L206.4,32.1 L208.3,32.9 L210.1,33.7 L212.0,34.5 L213.9,35.3 L215.7,36.2 L217.6,37.0 L219.4,37.8 L221.3,38.7 L223.2,39.5 L225.0,40.4 L226.9,41.3 L228.7,42.1 L230.6,43.0 L232.5,43.9 L234.3,44.8 L236.2,45.6 L238.0,46.5 L239.9,47.4 L241.8,48.3 L243.6,49.2 L245.5,50.1 L247.3,51.0 L249.2,51.9 L251.1,52.8 L252.9,53.7 L254.8,54.7 L256.6,55.6 L258.5,56.6 L260.4,57.6 L262.2,58.5 L264.1,59.5 L265.9,60.5 L267.8,61.5 L269.7,62.4 L271.5,63.4 L273.4,64.4 L275.2,65.4 L277.1,66.4 L279.0,67.4 L280.8,68.4 L282.7,69.4 L284.5,70.4 L286.4,71.4 L288.3,72.4 L290.1,73.4 L292.0,74.4 L293.8,75.4 L295.7,76.5 L297.6,77.5 L299.4,78.5 L301.3,79.5 L303.1,80.6 L305.0,81.6 L306.9,82.6 L308.7,83.7 L310.6,84.7 L312.4,85.8 L314.3,86.8 L316.2,87.9 L318.0,88.9 L319.9,90.0 L321.7,91.0 L323.6,92.1 L325.5,93.1 L327.3,94.2 L329.2,95.3 L331.0,96.3 L332.9,97.4 L334.8,98.5 L336.6,99.6 L338.5,100.6 L340.3,101.7 L342.2,102.8 L344.1,103.9 L345.9,105.0 L347.8,106.1 L349.6,107.2 L351.5,108.3 L353.4,109.4 L355.2,110.5 L357.1,111.6 L358.9,112.7 L360.8,113.8 L362.7,114.9 L364.5,116.0 L366.4,117.1 L368.2,118.3 L370.1,119.4 L372.0,120.5 L373.8,121.6 L375.7,122.8 L377.5,123.9 L379.4,125.0 L381.3,126.2 L383.1,127.3 L385.0,128.4 L386.8,129.6 L388.7,130.7 L390.6,131.9 L392.4,133.0 L394.3,134.2 L396.1,135.3 L398.0,136.5 L399.9,137.6 L401.7,138.8 L403.6,140.0 L405.4,141.1 L407.3,142.3 L409.2,143.5 L411.0,144.6 L412.9,145.8 L414.7,147.0 L416.6,148.1 L418.5,149.3 L420.3,150.5 L422.2,151.7 L424.0,152.9 L425.9,154.1 L427.8,155.2 L429.6,156.4 L431.5,157.6 L433.3,158.8 L435.2,160.0 L437.1,161.2 L438.9,162.4 L440.8,163.6 L442.6,164.8 L444.5,166.0 L446.4,167.2 L448.2,168.4 L450.1,169.7 L451.9,170.9 L453.8,172.1 L455.7,173.3 L457.5,174.5 L459.4,175.7 L461.2,177.0 L463.1,178.2 L465.0,179.4 L466.8,180.6 L468.7,181.9 L470.5,183.1 L472.4,184.3 L474.3,185.6 L476.1,186.8 L478.0,188.0 L479.8,189.3 L481.7,190.5 L483.6,191.8 L485.4,193.0 L487.3,194.3 L489.1,195.5 L491.0,196.8 L492.9,198.0 L494.7,199.3 L496.6,200.5 L498.4,201.8 L500.3,203.0 L502.2,204.3 L504.0,205.6 L505.9,206.8 L507.7,208.1 L509.6,209.3 L511.5,210.6 L513.3,211.9 L515.2,213.2 L517.0,214.4 L518.9,215.7 L520.8,217.0 L522.6,218.2 L524.5,219.5 L526.3,220.8 L528.2,222.1 L530.1,223.4 L531.9,224.6 L533.8,225.9 L535.6,227.2 L537.5,228.5 L539.4,229.8 L541.2,231.1 L543.1,232.4 L544.9,233.7 L546.8,235.0 L548.7,236.3 L550.5,237.5 L552.4,238.8 L554.2,240.1 L556.1,241.4 L558.0,242.7 L559.8,244.0 L561.7,245.4 L563.5,246.7 L565.4,248.0 L567.3,249.3 L569.1,250.6 L571.0,251.9 L572.8,253.2 L574.7,254.5 L576.6,255.8 L578.4,257.1 L580.3,258.5 L582.1,259.8 L584.0,261.1 L585.9,262.4 L587.7,263.7 L589.6,265.0 L591.4,266.4 L593.3,267.7 L595.2,269.0 L597.0,270.3 L598.9,271.7 L600.7,273.0 L602.6,274.3 L604.5,275.6 L606.3,277.0 L608.2,278.3 L610.0,279.6 L611.9,281.0 L613.8,282.3 L615.6,283.6 L617.5,285.0 L619.3,286.3 L621.2,287.6 L623.1,289.0 L624.9,290.3 L626.8,291.7 L628.6,293.0 L630.5,294.3 L632.4,295.7 L634.2,297.0 L636.1,298.4 L637.9,299.7 L639.8,301.1 L641.7,302.4 L643.5,303.7 L645.4,305.1 L647.2,306.4 L649.1,307.8 L651.0,309.1 L652.8,310.5 L654.7,311.8 L656.5,313.2 L658.4,314.5 L660.3,315.9 L662.1,317.2 L664.0,318.6 L665.8,320.0 L667.7,321.3 L669.6,322.7 L671.4,324.0 L673.3,325.4 L675.1,326.7 L677.0,328.1 L678.9,329.4 L680.7,330.8 L682.6,332.2 L684.4,333.5 L686.3,334.9 L688.2,336.2 L690.0,337.6 L691.9,339.0 L693.7,340.3 L695.6,341.7 L697.5,343.1 L699.3,344.4 L701.2,345.8 L703.0,347.1 L704.9,348.5 L706.8,349.9 L708.6,351.2 L710.5,352.6 L712.3,354.0 L714.2,355.3 L716.1,356.7 L717.9,358.1 L719.8,359.4 L721.6,360.8 L723.5,362.2 L725.4,363.5 L727.2,364.9 L729.1,366.3 L730.9,367.6 L732.8,369.0 L734.7,370.4 L736.5,371.8 L738.4,373.1 L740.2,374.5 L742.1,375.9 L744.0,377.2 L745.8,378.6 L747.7,380.0 L749.5,381.3 L751.4,382.7 L753.3,384.1 L755.1,385.5 L757.0,386.8 L758.8,388.2 L760.7,389.6 L762.6,390.9 L764.4,392.3 L766.3,393.7 L768.1,395.1 L770.0,396.4 L771.9,397.8 L773.7,399.2 L775.6,400.5 L777.4,401.9 L779.3,403.3 L781.2,404.6 L783.0,406.0 L784.9,407.4 L786.7,408.8 L788.6,410.1 L790.5,411.5 L792.3,412.9 L794.2,414.2 L796.0,415.6 L797.9,417.0 L799.8,418.4 L801.6,419.7 L803.5,421.1 L805.3,422.5 L807.2,423.8 L809.1,425.2 L810.9,426.6 L812.8,427.9 L814.6,429.3" stroke="#996633" stroke-width="0.9"/>
</g>
<g fill="none" stroke="#7f7f7f">
<path d="M72.5,0.3 V460.0" stroke-width="0.6"/>
<path d="M816.5,0.3 V460.0" stroke-width="0.75"/>
<path d="M72.5,460.05 H816.5" stroke-width="0.85"/>
</g>
<g stroke="#444" stroke-width="0.6" fill="none">
<path d="M72.50,460.0 v-5.4"/><path d="M72.50,0.3 v5.4"/>
<path d="M109.70,460.0 v-3.3"/><path d="M109.70,0.3 v3.3"/>
<path d="M146.90,460.0 v-3.3"/><path d="M146.90,0.3 v3.3"/>
<path d="M184.10,460.0 v-3.3"/><path d="M184.10,0.3 v3.3"/>
<path d="M221.30,460.0 v-3.3"/><path d="M221.30,0.3 v3.3"/>
<path d="M258.50,460.0 v-5.4"/><path d="M258.50,0.3 v5.4"/>
<path d="M295.70,460.0 v-3.3"/><path d="M295.70,0.3 v3.3"/>
<path d="M332.90,460.0 v-3.3"/><path d="M332.90,0.3 v3.3"/>
<path d="M370.10,460.0 v-3.3"/><path d="M370.10,0.3 v3.3"/>
<path d="M407.30,460.0 v-3.3"/><path d="M407.30,0.3 v3.3"/>
<path d="M444.50,460.0 v-5.4"/><path d="M444.50,0.3 v5.4"/>
<path d="M481.70,460.0 v-3.3"/><path d="M481.70,0.3 v3.3"/>
<path d="M518.90,460.0 v-3.3"/><path d="M518.90,0.3 v3.3"/>
<path d="M556.10,460.0 v-3.3"/><path d="M556.10,0.3 v3.3"/>
<path d="M593.30,460.0 v-3.3"/><path d="M593.30,0.3 v3.3"/>
<path d="M630.50,460.0 v-5.4"/><path d="M630.50,0.3 v5.4"/>
<path d="M667.70,460.0 v-3.3"/><path d="M667.70,0.3 v3.3"/>
<path d="M704.90,460.0 v-3.3"/><path d="M704.90,0.3 v3.3"/>
<path d="M742.10,460.0 v-3.3"/><path d="M742.10,0.3 v3.3"/>
<path d="M779.30,460.0 v-3.3"/><path d="M779.30,0.3 v3.3"/>
<path d="M816.50,460.0 v-5.4"/><path d="M816.50,0.3 v5.4"/>
</g>
<g stroke="#8a8a8a" stroke-width="0.55" fill="none">
<path d="M72.5,65.90 h5.4"/><path d="M816.5,65.90 h-5.4"/>
<path d="M72.5,197.20 h5.4"/><path d="M816.5,197.20 h-5.4"/>
<path d="M72.5,328.50 h5.4"/><path d="M816.5,328.50 h-5.4"/>
<path d="M72.5,459.80 h5.4"/><path d="M816.5,459.80 h-5.4"/>
</g>
<g stroke="#111" stroke-width="0.9" fill="none">
<path d="M72.5,126.35 h3.1"/><path d="M816.5,126.35 h-3.1"/>
<path d="M72.5,107.80 h3.1"/><path d="M816.5,107.80 h-3.1"/>
<path d="M72.5,96.66 h3.1"/><path d="M816.5,96.66 h-3.1"/>
<path d="M72.5,88.67 h3.1"/><path d="M816.5,88.67 h-3.1"/>
<path d="M72.5,82.43 h3.1"/><path d="M816.5,82.43 h-3.1"/>
<path d="M72.5,77.32 h3.1"/><path d="M816.5,77.32 h-3.1"/>
<path d="M72.5,72.98 h3.1"/><path d="M816.5,72.98 h-3.1"/>
<path d="M72.5,69.22 h3.1"/><path d="M816.5,69.22 h-3.1"/>
<path d="M72.5,257.65 h3.1"/><path d="M816.5,257.65 h-3.1"/>
<path d="M72.5,239.10 h3.1"/><path d="M816.5,239.10 h-3.1"/>
<path d="M72.5,227.96 h3.1"/><path d="M816.5,227.96 h-3.1"/>
<path d="M72.5,219.97 h3.1"/><path d="M816.5,219.97 h-3.1"/>
<path d="M72.5,213.73 h3.1"/><path d="M816.5,213.73 h-3.1"/>
<path d="M72.5,208.62 h3.1"/><path d="M816.5,208.62 h-3.1"/>
<path d="M72.5,204.28 h3.1"/><path d="M816.5,204.28 h-3.1"/>
<path d="M72.5,200.52 h3.1"/><path d="M816.5,200.52 h-3.1"/>
<path d="M72.5,388.95 h3.1"/><path d="M816.5,388.95 h-3.1"/>
<path d="M72.5,370.40 h3.1"/><path d="M816.5,370.40 h-3.1"/>
<path d="M72.5,359.26 h3.1"/><path d="M816.5,359.26 h-3.1"/>
<path d="M72.5,351.27 h3.1"/><path d="M816.5,351.27 h-3.1"/>
<path d="M72.5,345.03 h3.1"/><path d="M816.5,345.03 h-3.1"/>
<path d="M72.5,339.92 h3.1"/><path d="M816.5,339.92 h-3.1"/>
<path d="M72.5,335.58 h3.1"/><path d="M816.5,335.58 h-3.1"/>
<path d="M72.5,331.82 h3.1"/><path d="M816.5,331.82 h-3.1"/>
</g>
<text x="72.5" y="476.9" text-anchor="middle">0</text>
<text x="258.5" y="476.9" text-anchor="middle">1</text>
<text x="444.5" y="476.9" text-anchor="middle">2</text>
<text x="630.5" y="476.9" text-anchor="middle">3</text>
<text x="816.5" y="476.9" text-anchor="middle">4</text>
<text x="69" y="70.9" text-anchor="end">0.1</text>
<text x="68.4" y="202.2" text-anchor="end">0.001</text>
<text x="68.5" y="334.8" text-anchor="end">10<tspan class="sup" dy="-6.3">−5</tspan></text>
<text x="68.5" y="466.1" text-anchor="end">10<tspan class="sup" dy="-6.3">−7</tspan></text>
<text x="445" y="501.6" text-anchor="middle" style="font-size:15.75px">Wave Height/SWH</text>
<text transform="translate(21.1,230) rotate(-90)" text-anchor="middle">Cumulative Probability</text>
<path d="M150.5,394 V197.5 H356.5 V394" fill="#fff" stroke="#e2e2e2" stroke-width="1"/>
<path d="M161,224.7 H202.7" stroke="#0000ff" stroke-width="2.1" fill="none"/>
<text class="it" transform="translate(230.9,230.0) scale(1.22,1.0)">ε</text>
<text x="238.9" y="230.0">=0</text>
<path d="M161,270.5 H202.7" stroke="#ff0000" stroke-width="2.1" fill="none" stroke-dasharray="5.4 1.85"/>
<text class="it" transform="translate(230.9,275.8) scale(1.22,1.0)">ε</text>
<text x="238.9" y="275.8">=0.019</text>
<path d="M161,316.4 H202.7" stroke="#ff8000" stroke-width="2.1" fill="none" stroke-dasharray="13 12.6"/>
<text class="it" transform="translate(230.9,321.7) scale(1.22,1.0)">ε</text>
<text x="238.9" y="321.7">=0.032</text>
<path d="M161,362.2 H202.7" stroke="#996633" stroke-width="2.1" fill="none" stroke-dasharray="3.1 1.95 7.25 1.95"/>
<text class="it" transform="translate(230.9,367.5) scale(1.22,1.0)">ε</text>
<text x="238.9" y="367.5">=0.042</text>
</svg></body></html>
